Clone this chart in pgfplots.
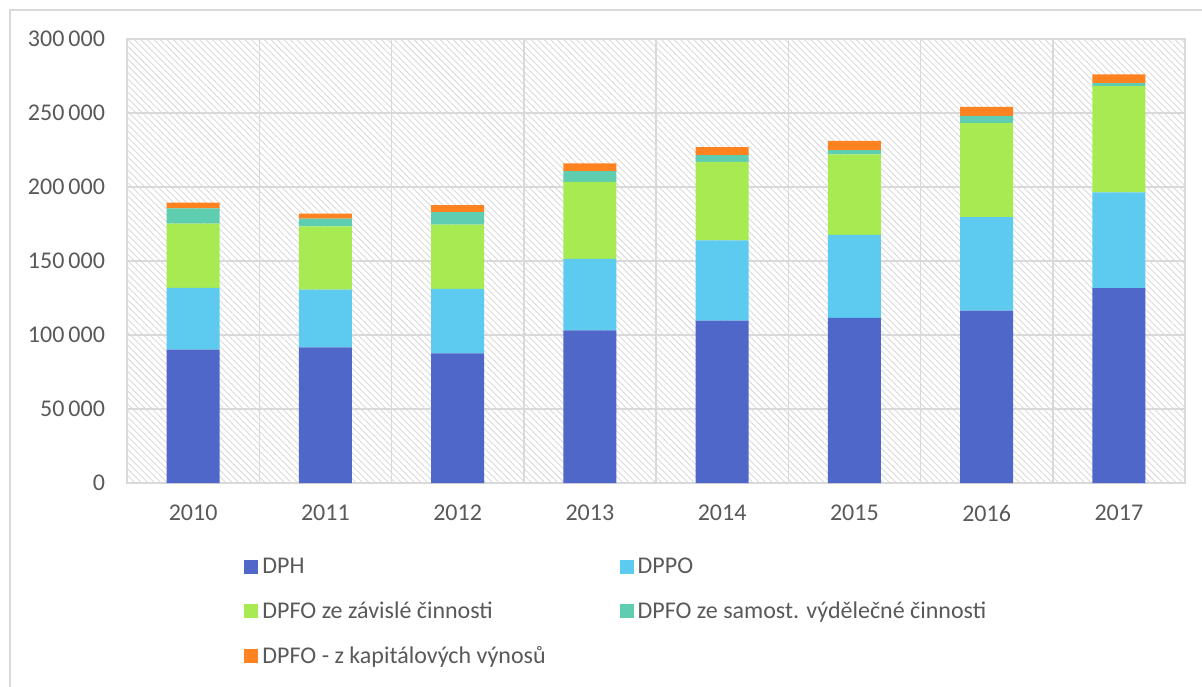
\documentclass[border=0pt]{standalone}
\usepackage{pgfplots}
\pgfplotsset{compat=1.18}
\usepackage{pgfplotstable}
\usepackage{fontspec}
\setmainfont{Carlito}
\usetikzlibrary{patterns,patterns.meta}
\definecolor{cDPH}{HTML}{4F67C8}
\definecolor{cDPPO}{HTML}{5DCBF0}
\definecolor{cZav}{HTML}{A8EA52}
\definecolor{cSam}{HTML}{5ECDB0}
\definecolor{cKap}{HTML}{FF8220}
\definecolor{txt}{HTML}{595959}
\definecolor{grd}{HTML}{D9D9D9}
\definecolor{hatch}{HTML}{DADADA}
\pgfplotstableread{
x DPH DPPO Zav Sam Kap
0 90100 41700 43400 10300 3900
1 91600 39100 42700 5200 3400
2 87600 43600 43300 8500 4800
3 103100 48400 51900 7400 5200
4 109700 54200 53000 4700 5300
5 111500 56200 54400 2900 6100
6 116500 63200 63400 5000 6100
7 131600 64800 71800 2000 5900
}\data
\begin{document}
\begin{tikzpicture}
\useasboundingbox (-63.5pt,-101.5pt) rectangle (537.5pt,241.5pt);
\begin{axis}[
  at={(0pt,0pt)}, anchor=south west,
  width=529pt, height=222pt, scale only axis,
  ybar stacked, bar width=26.5pt,
  xmin=-0.5, xmax=7.5, ymin=0, ymax=300000,
  xtick={0,...,7},
  xticklabels={2010,2011,2012,2013,2014,2015,2016,2017},
  minor xtick={-0.5,0.5,...,7.5},
  xminorgrids,
  ytick={0,50000,100000,150000,200000,250000,300000},
  yticklabels={0,50\,000,100\,000,150\,000,200\,000,250\,000,300\,000},
  ymajorgrids,
  scaled y ticks=false,
  grid style={draw=grd, line width=0.75pt},
  minor grid style={draw=grd, line width=0.75pt},
  axis line style={draw=grd, line width=0.75pt},
  major tick length=0pt, minor tick length=0pt,
  tick style={draw=none},
  ticklabel style={font=\fontsize{12pt}{14pt}\selectfont, text=txt},
  yticklabel style={xshift=-7.5pt},
  xticklabel style={yshift=-7.5pt},
  axis background/.style={pattern={Lines[angle=-45,distance=2.3pt,line width=0.45pt]}, pattern color=hatch},
  legend columns=2,
  legend cell align=left,
  legend style={at={(0.105,-0.15)}, anchor=north west, draw=none, fill=none,
    font=\fontsize{12pt}{14pt}\selectfont, text=txt,
    row sep=8.5pt,
    /tikz/every even column/.append style={column sep=35pt}},
  legend image code/.code={\fill[#1] (0pt,-3.5pt) rectangle (7pt,3.5pt);},
  every axis plot/.append style={draw=none},
]
\addplot[fill=cDPH] table[x=x,y=DPH]{\data};
\addplot[fill=cDPPO] table[x=x,y=DPPO]{\data};
\addplot[fill=cZav] table[x=x,y=Zav]{\data};
\addplot[fill=cSam] table[x=x,y=Sam]{\data};
\addplot[fill=cKap] table[x=x,y=Kap]{\data};
\legend{DPH, DPPO, DPFO ze závislé činnosti, DPFO ze samost. výdělečné činnosti, DPFO - z kapitálových výnosů}
\end{axis}
\draw[grd, line width=0.75pt] (-58.5pt,-110pt) -- (-58.5pt,236.5pt) -- (545pt,236.5pt);
\end{tikzpicture}
\end{document}
